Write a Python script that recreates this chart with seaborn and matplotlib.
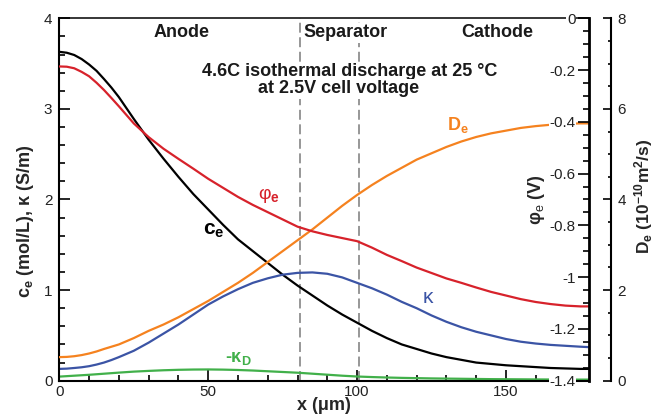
import matplotlib
matplotlib.use("Agg")
import matplotlib.pyplot as plt
import seaborn as sns
import pandas as pd
from matplotlib.ticker import MultipleLocator, FormatStrFormatter

# ---------------- data ----------------
x_um = [0, 2.5, 5, 7.5, 10, 12.5, 15, 17.5, 20, 25, 30, 35, 40, 45, 50, 55, 60,
        65, 70, 75, 80, 85, 90, 95, 100, 105, 110, 115, 120, 125, 130, 135, 140,
        145, 150, 155, 160, 165, 170, 175, 178]
c_e = [3.63, 3.62, 3.595, 3.55, 3.49, 3.42, 3.33, 3.235, 3.13, 2.89, 2.66, 2.45,
       2.25, 2.06, 1.89, 1.72, 1.56, 1.43, 1.30, 1.17, 1.05, 0.94, 0.83, 0.73,
       0.64, 0.55, 0.47, 0.40, 0.35, 0.30, 0.26, 0.23, 0.20, 0.185, 0.17, 0.16,
       0.15, 0.14, 0.135, 0.13, 0.13]
kappa = [0.13, 0.133, 0.14, 0.148, 0.16, 0.178, 0.20, 0.228, 0.26, 0.33, 0.42,
         0.52, 0.62, 0.73, 0.84, 0.93, 1.01, 1.08, 1.13, 1.17, 1.19, 1.195, 1.18,
         1.14, 1.08, 1.02, 0.95, 0.87, 0.80, 0.72, 0.65, 0.59, 0.54, 0.50, 0.46,
         0.43, 0.41, 0.395, 0.385, 0.375, 0.37]
kappa_D = [0.045, 0.050, 0.055, 0.060, 0.065, 0.071, 0.077, 0.083, 0.089, 0.100,
           0.108, 0.115, 0.120, 0.123, 0.124, 0.122, 0.118, 0.112, 0.104, 0.096,
           0.088, 0.077, 0.066, 0.055, 0.046, 0.040, 0.035, 0.031, 0.028, 0.025,
           0.023, 0.021, 0.019, 0.017, 0.016, 0.015, 0.014, 0.013, 0.012, 0.012,
           0.012]
phi_e = [-0.186, -0.187, -0.193, -0.207, -0.224, -0.249, -0.277, -0.308, -0.340,
         -0.406, -0.459, -0.504, -0.543, -0.581, -0.620, -0.655, -0.690, -0.721,
         -0.749, -0.777, -0.805, -0.823, -0.837, -0.849, -0.861, -0.886, -0.914,
         -0.938, -0.963, -0.984, -1.005, -1.022, -1.040, -1.057, -1.071, -1.085,
         -1.096, -1.104, -1.110, -1.113, -1.113]
D_e = [0.52, 0.525, 0.54, 0.565, 0.60, 0.645, 0.70, 0.75, 0.80, 0.94, 1.10, 1.24,
       1.40, 1.58, 1.76, 1.96, 2.16, 2.38, 2.62, 2.86, 3.10, 3.34, 3.60, 3.86,
       4.10, 4.32, 4.52, 4.70, 4.88, 5.02, 5.16, 5.28, 5.38, 5.46, 5.52, 5.58,
       5.62, 5.65, 5.67, 5.68, 5.68]
separator_bounds = [80.8, 100.8]
x_ticks = [0, 50, 100, 150]
region_labels = ["Anode", "Separator", "Cathode"]
region_label_x = [41.2, 96.0, 147.0]

df = pd.DataFrame({"x": x_um, "ce": c_e, "kappa": kappa, "kD": kappa_D,
                   "phi": phi_e, "De": D_e})

# ---------------- style ----------------
sns.set_theme(style="white")
plt.rcParams["font.family"] = ["Liberation Sans", "DejaVu Sans"]
plt.rcParams["mathtext.fontset"] = "custom"
plt.rcParams["mathtext.rm"] = "Liberation Sans"
plt.rcParams["mathtext.it"] = "Liberation Sans:italic"
plt.rcParams["mathtext.bf"] = "Liberation Sans:bold"
plt.rcParams["axes.unicode_minus"] = False

RED = "#d7222b"
ORANGE = "#f5821f"
BLUE = "#3b54a5"
GREEN = "#41b04a"
LW = 1.6

fig = plt.figure(figsize=(6.57, 4.16), dpi=100)
ax = fig.add_axes([0.0903, 0.0849, 0.8067, 0.8711])
ax2 = ax.twinx()
ax3 = ax.twinx()
ax.set_zorder(0)
ax3.set_zorder(1)
ax2.set_zorder(2)
ax2.patch.set_visible(False)
ax3.patch.set_visible(False)

# separator boundaries
for xb in separator_bounds:
    ax.axvline(xb, color="#7a7a7a", lw=1.1, ls=(0, (6.5, 3)), zorder=1)

sns.lineplot(data=df, x="x", y="ce", ax=ax, color="black", lw=LW, zorder=2)
sns.lineplot(data=df, x="x", y="kappa", ax=ax, color=BLUE, lw=LW, zorder=2)
sns.lineplot(data=df, x="x", y="kD", ax=ax, color=GREEN, lw=LW, zorder=2)
sns.lineplot(data=df, x="x", y="De", ax=ax3, color=ORANGE, lw=LW, zorder=2)
sns.lineplot(data=df, x="x", y="phi", ax=ax2, color=RED, lw=LW, zorder=2)

# ---------------- axes ----------------
ax.set_xlim(0, 178)
ax.set_ylim(0, 4)
ax2.set_ylim(-1.4, 0)
ax3.set_ylim(0, 8)

ax.set_xticks(x_ticks)
ax.xaxis.set_minor_locator(MultipleLocator(10))
ax.yaxis.set_major_locator(MultipleLocator(1))
ax.yaxis.set_minor_locator(MultipleLocator(0.2))
ax.yaxis.set_major_formatter(FormatStrFormatter("%g"))
ax2.yaxis.set_major_locator(MultipleLocator(0.2))
ax2.yaxis.set_minor_locator(MultipleLocator(0.05))
ax2.yaxis.set_major_formatter(FormatStrFormatter("%g"))
ax3.yaxis.set_major_locator(MultipleLocator(2))
ax3.yaxis.set_minor_locator(MultipleLocator(0.5))
ax3.yaxis.set_major_formatter(FormatStrFormatter("%g"))

for a in (ax, ax2, ax3):
    a.set_xlabel("")
    a.set_ylabel("")

# spines
for s in ("left", "bottom", "top"):
    ax.spines[s].set_linewidth(1.5)
    ax.spines[s].set_color("black")
ax.spines["right"].set_visible(False)
ax.spines["top"].set_linewidth(1.1)
for s in ("left", "bottom", "top"):
    ax2.spines[s].set_visible(False)
    ax3.spines[s].set_visible(False)
ax2.spines["right"].set_linewidth(2.0)
ax2.spines["right"].set_color("black")
ax3.spines["right"].set_position(("axes", 1.04))
ax3.spines["right"].set_linewidth(1.5)
ax3.spines["right"].set_color("black")

ax.tick_params(axis="both", which="both", direction="in", color="black",
               width=1.2, labelsize=11, labelcolor="#222222")
ax.tick_params(axis="y", which="major", length=8, pad=5, left=True, right=False)
ax.tick_params(axis="y", which="minor", length=4, left=True, right=False)
ax.tick_params(axis="x", which="major", length=8, pad=3, bottom=True, top=False)
ax.tick_params(axis="x", which="minor", length=4, bottom=True, top=False)

ax2.tick_params(axis="y", which="both", direction="in", color="black", width=1.2,
                labelsize=11, labelcolor="#222222", pad=-10)
ax2.tick_params(axis="y", which="major", length=8)
ax2.tick_params(axis="y", which="minor", length=4.5)
for lbl in ax2.get_yticklabels():
    lbl.set_horizontalalignment("right")
    lbl.set_bbox(dict(facecolor="white", edgecolor="none", pad=0.6))

ax3.tick_params(axis="y", which="both", direction="in", color="black", width=1.2,
                labelsize=11, labelcolor="#222222", pad=5)
ax3.tick_params(axis="y", which="major", length=6)
ax3.tick_params(axis="y", which="minor", length=2.5)

# axis titles
ax.set_xlabel("x (\u03bcm)", fontsize=13, fontweight="bold", labelpad=-1)
ax.text(-0.064, 0.44, "c$_\\mathbf{e}$ (mol/L), \u03ba (S/m)", transform=ax.transAxes,
        rotation=90, ha="center", va="center", fontsize=13, fontweight="bold")
ax.text(0.901, 0.5, "\u03c6$_\\mathrm{e}$ (V)", transform=ax.transAxes,
        rotation=90, ha="center", va="center", fontsize=13, fontweight="bold",
        zorder=5)
ax.text(1.102, 0.51, "D$_\\mathbf{e}$ (10$^\\mathbf{-10}$m$^\\mathbf{2}$/s)",
        transform=ax.transAxes, rotation=90, ha="center", va="center",
        fontsize=12.5, fontweight="bold", clip_on=False)

white = dict(facecolor="white", edgecolor="none", pad=1)
for lab, xl in zip(region_labels, region_label_x):
    ax.text(xl, 3.84, lab, ha="center", va="center", fontsize=13,
            fontweight="bold", color="#1a1a1a", bbox=white, zorder=4)
ax.text(48.0, 3.363, "4.6C isothermal discharge at 25 \u00b0C", ha="left",
        va="baseline", fontsize=13, fontweight="bold", color="#1a1a1a",
        bbox=white, zorder=4)
ax.text(66.8, 3.172, "at 2.5V cell voltage", ha="left", va="baseline",
        fontsize=13, fontweight="bold", color="#1a1a1a", bbox=white, zorder=4)

# curve labels
ax.text(66.7, 2.0, "\u03c6$_\\mathbf{e}$", color=RED, fontsize=14, ha="left",
        va="baseline")
ax.text(48.3, 1.61, "c$_\\mathbf{e}$", color="black", fontsize=15,
        fontweight="bold", ha="left", va="baseline")
ax.text(130.3, 2.767, "D$_\\mathbf{e}$", color=ORANGE, fontsize=13,
        fontweight="bold", ha="left", va="baseline")
ax.text(121.9, 0.858, "\u03ba", color=BLUE, fontsize=15, ha="left",
        va="baseline")
ax.text(55.7, 0.206, "-\u03ba$_\\mathbf{D}$", color=GREEN, fontsize=13,
        fontweight="bold", ha="left", va="baseline")

fig.savefig("out.png", dpi=100)
